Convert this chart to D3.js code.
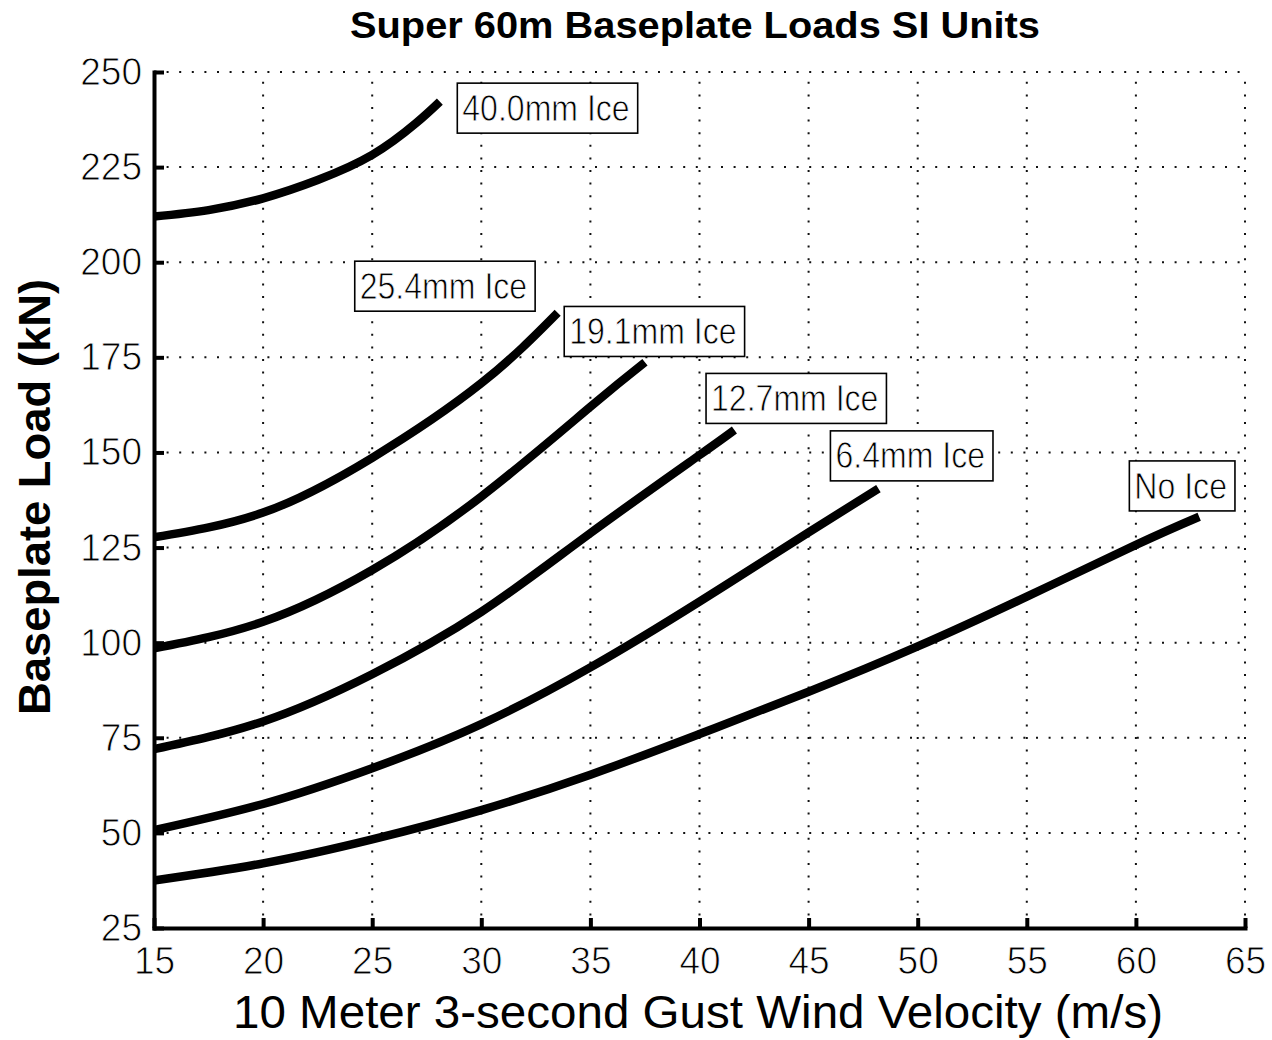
<!DOCTYPE html>
<html>
<head>
<meta charset="utf-8">
<script src="https://cdn.jsdelivr.net/npm/d3@7"></script>
<style>
  html, body { margin: 0; padding: 0; background: #fff; }
  svg { display: block; font-family: "Liberation Sans", Arial, Helvetica, sans-serif; }
</style>
</head>
<body>
<svg id="chart" width="1272" height="1040"></svg>
<script>
// Axis ticks
const velocityTicks = [15, 20, 25, 30, 35, 40, 45, 50, 55, 60, 65];      // m/s
const loadTicks = [25, 50, 75, 100, 125, 150, 175, 200, 225, 250];       // kN

// Ice thickness cases, drawn in this order
const iceCases = ["40.0mm Ice", "25.4mm Ice", "19.1mm Ice", "12.7mm Ice", "6.4mm Ice", "No Ice"];

// Baseplate load (kN) against 10 m 3-second gust wind velocity (m/s)
const vel40 = [15, 17.5, 20, 22.5, 25, 27, 28.1];
const load40 = [212.0, 213.7, 216.8, 221.6, 228.2, 236.5, 242.2];

const vel254 = [15, 20, 25, 30, 33.5];
const load254 = [127.7, 134.2, 148.6, 168.2, 186.7];

const vel191 = [15, 20, 25, 30, 35, 37.5];
const load191 = [98.5, 105.5, 119.1, 138.4, 162.0, 173.7];

const vel127 = [15, 20, 25, 30, 35, 40, 41.6];
const load127 = [72.0, 79.3, 91.7, 108.1, 128.8, 149.3, 155.9];

const vel64 = [15, 20, 25, 30, 35, 40, 45, 48.2];
const load64 = [50.7, 57.6, 67.0, 78.6, 93.5, 110.8, 129.0, 140.5];

const velNone = [15, 20, 25, 30, 35, 40, 45, 50, 55, 60, 62.9];
const loadNone = [37.5, 42.0, 48.3, 56.0, 65.3, 76.0, 87.1, 99.0, 112.1, 125.7, 133.1];

// Where each case's text label sits (velocity, load)
const labelVelocity = [28.9, 24.2, 33.8, 40.3, 46.0, 59.7];
const labelLoad = [240.5, 193.7, 181.8, 164.2, 149.1, 141.2];

const series = [
  [vel40, load40], [vel254, load254], [vel191, load191],
  [vel127, load127], [vel64, load64], [velNone, loadNone]
].map(([v, l]) => v.map((d, i) => [d, l[i]]));

const svg = d3.select("#chart");

const x = d3.scaleLinear().domain([15, 65]).range([154, 1245]);
const y = d3.scaleLinear().domain([25, 250]).range([928, 72]);

// Dotted grid
const grid = svg.append("g").attr("stroke", "#111").attr("stroke-width", 2)
  .attr("stroke-dasharray", "2 10.6");
grid.selectAll("line.gx").data(velocityTicks.filter(d => d > 15)).join("line")
  .attr("class", "gx")
  .attr("x1", d => x(d)).attr("x2", d => x(d))
  .attr("y1", y(25)).attr("y2", y(250));
grid.selectAll("line.gy").data(loadTicks.filter(d => d > 25)).join("line")
  .attr("class", "gy")
  .attr("x1", x(15)).attr("x2", x(65))
  .attr("y1", d => y(d)).attr("y2", d => y(d));

// Load curves
const line = d3.line().x(d => x(d[0])).y(d => y(d[1])).curve(d3.curveNatural);
svg.append("g").selectAll("path").data(series).join("path")
  .attr("d", line)
  .attr("fill", "none")
  .attr("stroke", "#000")
  .attr("stroke-width", 8.5)
  .attr("stroke-linejoin", "round")
  .attr("stroke-linecap", "butt");

// Axes with inward ticks
function styleAxis(g) {
  g.select(".domain").attr("stroke", "#000").attr("stroke-width", 4).attr("stroke-linecap", "square");
  g.selectAll(".tick line").attr("stroke", "#000").attr("stroke-width", 4);
  g.selectAll(".tick text")
    .attr("fill", "#000")
    .attr("font-size", 39)
    .attr("font-family", "'Liberation Sans', Arial, sans-serif")
    .attr("stroke", "#fff").attr("stroke-width", 0.9)
    .each(function () {
      const n = this.getComputedTextLength();
      d3.select(this).attr("textLength", n * 0.95).attr("lengthAdjust", "spacingAndGlyphs");
    });
}

svg.append("g")
  .attr("transform", `translate(0,${y(25)})`)
  .call(d3.axisBottom(x).tickValues(velocityTicks).tickFormat(d3.format("d"))
    .tickSizeInner(-10).tickSizeOuter(0).tickPadding(18))
  .call(styleAxis);

svg.append("g")
  .attr("transform", `translate(${x(15)},0)`)
  .call(d3.axisLeft(y).tickValues(loadTicks).tickFormat(d3.format("d"))
    .tickSizeInner(-10).tickSizeOuter(0).tickPadding(12))
  .call(styleAxis);

// Boxed case labels
const labels = svg.append("g");
iceCases.forEach((name, i) => {
  const lx = x(labelVelocity[i]);
  const ly = y(labelLoad[i]);
  const g = labels.append("g");
  const box = g.append("rect");
  const t = g.append("text")
    .attr("x", lx + 5).attr("y", ly).attr("dy", "0.35em")
    .attr("font-size", 36).attr("fill", "#000")
    .attr("stroke", "#fff").attr("stroke-width", 0.8)
    .text(name);
  const w = t.node().getComputedTextLength() * 0.89;
  t.attr("textLength", w).attr("lengthAdjust", "spacingAndGlyphs");
  box.attr("x", lx).attr("y", ly - 25)
    .attr("width", w + 13).attr("height", 50)
    .attr("fill", "#fff").attr("stroke", "#000").attr("stroke-width", 1.6);
});

// Title and axis titles
svg.append("text")
  .attr("x", 695).attr("y", 38)
  .attr("text-anchor", "middle")
  .attr("font-size", 36).attr("font-weight", "bold")
  .attr("textLength", 690).attr("lengthAdjust", "spacingAndGlyphs")
  .text("Super 60m Baseplate Loads SI Units");

svg.append("text")
  .attr("x", 698).attr("y", 1028)
  .attr("text-anchor", "middle")
  .attr("font-size", 47)
  .attr("textLength", 930).attr("lengthAdjust", "spacingAndGlyphs")
  .text("10 Meter 3-second Gust Wind Velocity (m/s)");

svg.append("text")
  .attr("transform", "translate(50,497) rotate(-90)")
  .attr("text-anchor", "middle")
  .attr("font-size", 45).attr("font-weight", "bold")
  .attr("textLength", 436).attr("lengthAdjust", "spacingAndGlyphs")
  .text("Baseplate Load (kN)");
</script>
</body>
</html>
